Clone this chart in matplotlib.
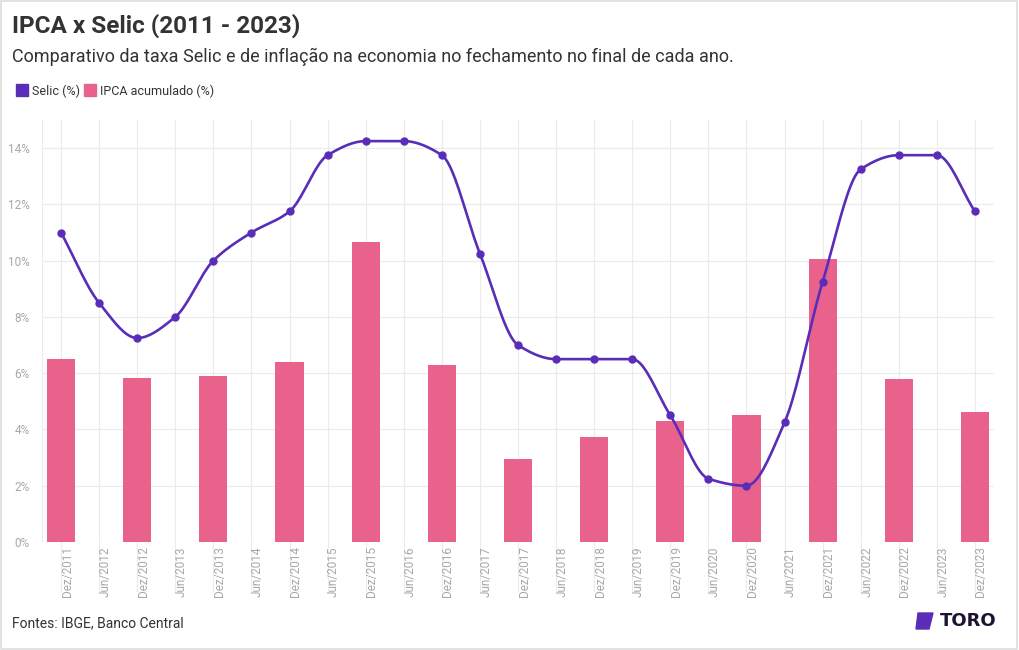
import matplotlib
matplotlib.use('Agg')
import matplotlib.pyplot as plt
import matplotlib.transforms as mtransforms
from matplotlib.lines import Line2D
from matplotlib.patches import Rectangle, Polygon
import numpy as np

plt.rcParams['font.family'] = ['Roboto', 'DejaVu Sans']

periodos = ['Dez/2011', 'Jun/2012', 'Dez/2012', 'Jun/2013', 'Dez/2013', 'Jun/2014',
            'Dez/2014', 'Jun/2015', 'Dez/2015', 'Jun/2016', 'Dez/2016', 'Jun/2017',
            'Dez/2017', 'Jun/2018', 'Dez/2018', 'Jun/2019', 'Dez/2019', 'Jun/2020',
            'Dez/2020', 'Jun/2021', 'Dez/2021', 'Jun/2022', 'Dez/2022', 'Jun/2023',
            'Dez/2023']
selic = [11.0, 8.5, 7.25, 8.0, 10.0, 11.0, 11.75, 13.75, 14.25, 14.25, 13.75, 10.25,
         7.0, 6.5, 6.5, 6.5, 4.5, 2.25, 2.0, 4.25, 9.25, 13.25, 13.75, 13.75, 11.75]
ipca_periodos = ['Dez/2011', 'Dez/2012', 'Dez/2013', 'Dez/2014', 'Dez/2015', 'Dez/2016',
                 'Dez/2017', 'Dez/2018', 'Dez/2019', 'Dez/2020', 'Dez/2021', 'Dez/2022',
                 'Dez/2023']
ipca = [6.50, 5.84, 5.91, 6.41, 10.67, 6.29, 2.95, 3.75, 4.31, 4.52, 10.06, 5.79, 4.62]

cor_selic = '#5a2db8'
cor_ipca = '#e8628b'


def monotone(x, y, n=20):
    # curva suave monotona (Fritsch-Carlson) so para desenhar a linha
    x = np.asarray(x, float)
    y = np.asarray(y, float)
    h = np.diff(x)
    d = np.diff(y) / h
    m = np.zeros_like(y)
    m[0], m[-1] = d[0], d[-1]
    for i in range(1, len(y) - 1):
        if d[i - 1] * d[i] <= 0:
            m[i] = 0
        else:
            m[i] = 2 / (1 / d[i - 1] + 1 / d[i])
    xs, ys = [], []
    for i in range(len(x) - 1):
        t = np.linspace(0, 1, n, endpoint=False)
        h00 = 2 * t**3 - 3 * t**2 + 1
        h10 = t**3 - 2 * t**2 + t
        h01 = -2 * t**3 + 3 * t**2
        h11 = t**3 - t**2
        xs.append(x[i] + t * h[i])
        ys.append(h00 * y[i] + h10 * h[i] * m[i] + h01 * y[i + 1] + h11 * h[i] * m[i + 1])
    xs.append([x[-1]])
    ys.append([y[-1]])
    return np.concatenate(xs), np.concatenate(ys)


fig = plt.figure(figsize=(10.2, 6.5), dpi=100)
ax = fig.add_axes([42 / 1020, 1 - 542 / 650, (994 - 42) / 1020, (542 - 120) / 650])

x = np.arange(len(periodos))
xb = [periodos.index(p) for p in ipca_periodos]

ax.bar(xb, ipca, width=0.74, color=cor_ipca, zorder=2)
xs, ys = monotone(x, selic)
ax.plot(xs, ys, color=cor_selic, lw=1.9, zorder=3, solid_capstyle='round')
ax.plot(x, selic, 'o', color=cor_selic, ms=5, zorder=4)

ax.set_xlim(-0.5, len(periodos) - 0.5)
ax.set_ylim(0, 15)
ax.set_yticks(range(0, 15, 2))
ax.set_yticklabels([f'{v}%' for v in range(0, 15, 2)])
ax.set_xticks(x)
ax.set_xticklabels(periodos, rotation=90, va='top', ha='center')
ax.set_xticks([-0.5, len(periodos) - 0.5], minor=True)
ax.grid(True, which='both', color='#ebebeb', lw=0.8, zorder=0)
for s in ax.spines.values():
    s.set_visible(False)
ax.axhline(0, color='#e0e0e0', lw=0.8, zorder=1)
ax.tick_params(axis='y', length=0, labelsize=8.5, labelcolor='#a8a8a8', pad=9)
ax.tick_params(axis='x', which='major', length=36, color='#ebebeb', width=0.8,
               labelsize=8.5, labelcolor='#a8a8a8', pad=-33)
ax.tick_params(axis='x', which='minor', length=0)
off = mtransforms.ScaledTranslation(6 / 100, 0, fig.dpi_scale_trans)
for lab in ax.get_xticklabels():
    lab.set_transform(lab.get_transform() + off)

fig.text(12 / 1020, 1 - 26 / 650, 'IPCA x Selic (2011 - 2023)', fontsize=17.5,
         fontweight='bold', color='#333333', va='center')
fig.text(12 / 1020, 1 - 57 / 650,
         'Comparativo da taxa Selic e de inflação na economia no fechamento no final de cada ano.',
         fontsize=13, color='#333333', va='center')

handles = [Line2D([], [], marker='s', ls='', color=cor_selic, ms=8),
           Line2D([], [], marker='s', ls='', color=cor_ipca, ms=8)]
fig.legend(handles, ['Selic (%)', 'IPCA acumulado (%)'], loc='center left',
           bbox_to_anchor=(4 / 1020, 1 - 91 / 650), ncol=2, frameon=False,
           fontsize=9, handletextpad=0.3, columnspacing=0.3, handlelength=1.0,
           labelcolor='#333333')

fig.text(12 / 1020, 1 - 623 / 650, 'Fontes: IBGE, Banco Central', fontsize=10,
         color='#333333', va='center')

# logo
fig.patches.append(Polygon([[918 / 1020, 1 - 613 / 650], [933 / 1020, 1 - 613 / 650],
                            [929 / 1020, 1 - 629 / 650], [916 / 1020, 1 - 629 / 650]],
                           closed=True, transform=fig.transFigure, color='#5a2db8'))
fig.text(940 / 1020, 1 - 621 / 650, 'TORO', fontsize=13, fontweight='bold',
         family='DejaVu Sans', color='#1c1333', va='center', ha='left')

fig.patches.append(Rectangle((0.001, 0.002), 0.996, 0.996, transform=fig.transFigure,
                             fill=False, ec='#dddddd', lw=1.2))

fig.savefig('out.png', dpi=100)
